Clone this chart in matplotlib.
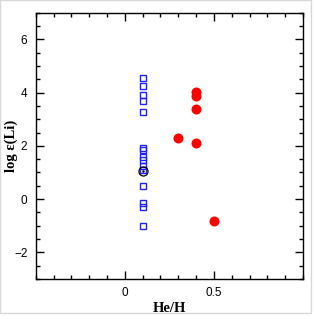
import matplotlib
matplotlib.use("Agg")
import matplotlib.pyplot as plt
from matplotlib.ticker import MultipleLocator
from matplotlib.patches import Rectangle

# Data
sq_x = [0.1]*15
sq_y = [4.54, 4.23, 3.92, 3.69, 3.27, 1.93, 1.85, 1.58, 1.46, 1.23, 0.51, -0.16, -0.31, -1.01, 1.10]
red_x = [0.4, 0.4, 0.4, 0.4, 0.3, 0.5]
red_y = [4.02, 3.87, 3.40, 2.09, 2.30, -0.81]
sun_x = [0.1]
sun_y = [1.06]

fig = plt.figure(figsize=(3.16, 3.18), dpi=100)
ax = fig.add_axes([0.113, 0.1226, 0.846, 0.8374])

ax.plot(sq_x, sq_y, linestyle='none', marker='s', ms=4.2, mfc='none', mec='#2020ff', mew=1.0)
ax.plot(red_x, red_y, linestyle='none', marker='o', ms=6.2, mfc='#ff0000', mec='#ff0000')
ax.plot(sun_x, sun_y, linestyle='none', marker='o', ms=6.5, mfc='none', mec='black', mew=0.9)
ax.plot(sun_x, sun_y, linestyle='none', marker='.', ms=1.5, color='black')

ax.set_xlim(-0.5, 1.0)
ax.set_ylim(-3, 7)
ax.xaxis.set_major_locator(MultipleLocator(0.5))
ax.xaxis.set_minor_locator(MultipleLocator(0.1))
ax.yaxis.set_major_locator(MultipleLocator(2))
ax.yaxis.set_minor_locator(MultipleLocator(0.5))
ax.set_xticks([0, 0.5])
ax.set_xticklabels(['0', '0.5'])
ax.tick_params(which='both', direction='in', top=True, right=True, width=1.0, labelsize=8.5)
ax.tick_params(which='major', length=5.5, pad=6)
ax.tick_params(which='minor', length=2.7)
for lab in ax.get_xticklabels() + ax.get_yticklabels():
    lab.set_family('Liberation Sans')
for s in ax.spines.values():
    s.set_linewidth(1.0)

ax.set_xlabel('He/H', family='Liberation Serif', fontsize=10.5, fontweight='bold', labelpad=2)
ax.set_ylabel('log ε(Li)', family='Liberation Serif', fontsize=10.5, fontweight='bold')
ax.yaxis.set_label_coords(-0.065, 0.5)

fig.patches.append(Rectangle((0, 0.015), 0.985, 0.985, transform=fig.transFigure,
                             fill=False, edgecolor='#d8d8d8', linewidth=1.0))

fig.savefig('out.png', dpi=100)
